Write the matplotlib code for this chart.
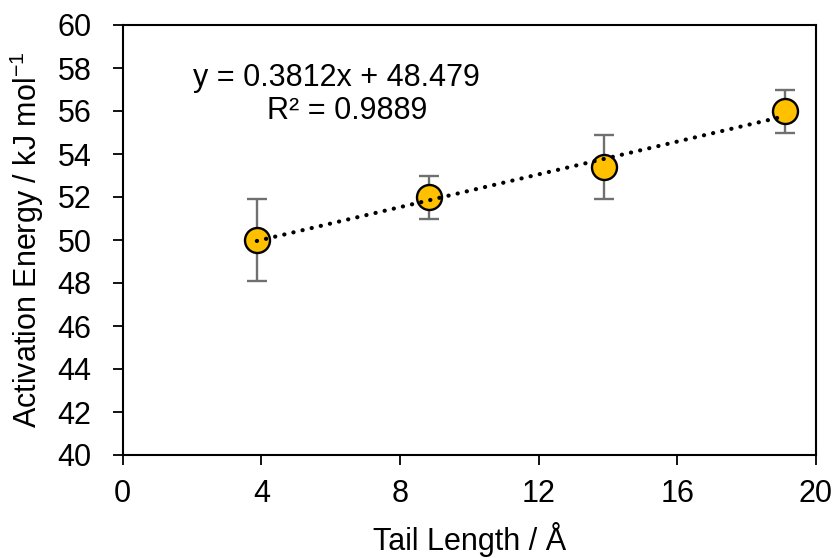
import numpy as np
import matplotlib
matplotlib.use("Agg")
import matplotlib.pyplot as plt

plt.rcParams['font.family'] = ['Liberation Sans', 'DejaVu Sans']

tail_length = [3.87, 8.84, 13.88, 19.11]
energy = [50.0, 52.0, 53.4, 56.0]
energy_err = [1.9, 1.0, 1.5, 1.0]
x_ticks = [0, 4, 8, 12, 16, 20]
y_ticks = [40, 42, 44, 46, 48, 50, 52, 54, 56, 58, 60]
slope, intercept = 0.3812, 48.479
eq_text = "y = 0.3812x + 48.479"
r2_text = "R² = 0.9889"

FS = 22
fig = plt.figure(figsize=(8.36, 5.58), dpi=100)
ax = fig.add_axes([122.7/836, 1 - 455/558, (816 - 122.7)/836, (455 - 25)/558])

ax.errorbar(tail_length, energy, yerr=energy_err, fmt='none', ecolor='#707070',
            elinewidth=1.7, capsize=7, capthick=1.7, zorder=2)
ax.plot(tail_length, energy, 'o', ms=18, mfc='#FFC000', mec='black', mew=1.7, zorder=3)

xs = np.array([min(tail_length), max(tail_length)])
ax.plot(xs, slope * xs + intercept, color='black', lw=3.0,
        linestyle=(0, (0.05, 2.2)), dash_capstyle='round', zorder=4)

ax.set_xlim(0, 20)
ax.set_ylim(40, 60)
ax.set_xticks(x_ticks)
ax.set_yticks(y_ticks)
ax.tick_params(axis='both', labelsize=FS, width=1.3, length=7.5, direction='out')
ax.tick_params(axis='x', pad=10)
ax.tick_params(axis='y', pad=15)
for s in ax.spines.values():
    s.set_linewidth(1.5)
    s.set_color('black')

ax.set_xlabel("Tail Length / Å", fontsize=FS)
ax.set_ylabel("Activation Energy / kJ mol$^{\\mathregular{-1}}$", fontsize=FS)
ax.xaxis.set_label_coords(0.5, (455 - 522) / 430)
ax.yaxis.set_label_coords((46.5 - 122.7) / 693.3, 0.5)

ax.text(336 / 836, 1 - 78 / 558, eq_text, transform=fig.transFigure,
        fontsize=FS, ha='center', va='center')
ax.text(347 / 836, 1 - 111 / 558, r2_text, transform=fig.transFigure,
        fontsize=FS, ha='center', va='center')

fig.savefig("out.png", dpi=100)
